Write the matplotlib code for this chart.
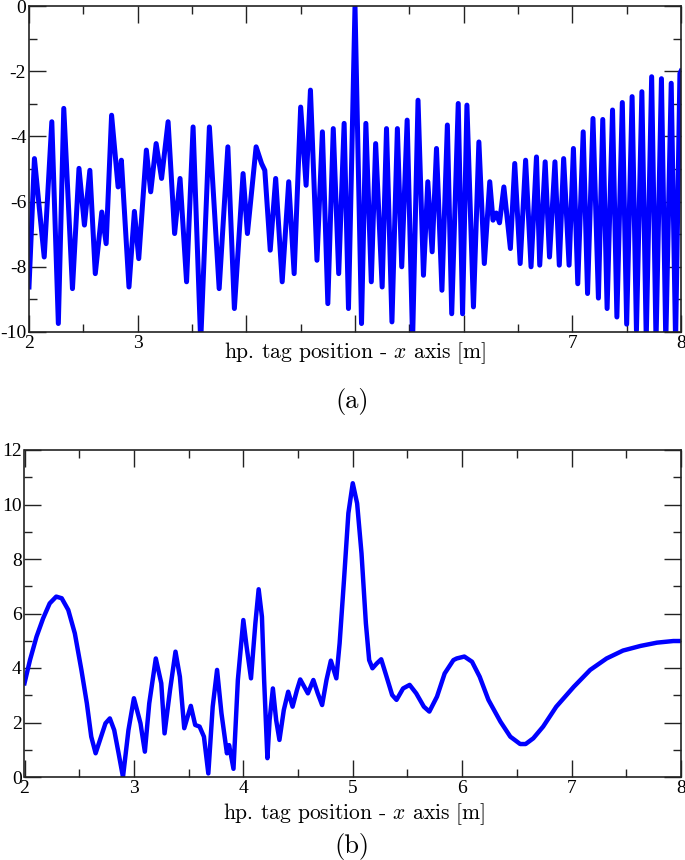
import matplotlib
matplotlib.use("Agg")
import matplotlib.pyplot as plt
from matplotlib.ticker import MultipleLocator, FuncFormatter

plt.rcParams['font.family'] = ['Liberation Serif', 'DejaVu Serif']
plt.rcParams['mathtext.fontset'] = 'cm'
plt.rcParams['axes.unicode_minus'] = False

# (a): local peaks / troughs of the curve
top_x = [2.00, 2.05, 2.10, 2.14, 2.21, 2.27, 2.32, 2.40, 2.46, 2.51,
         2.56, 2.61, 2.67, 2.71, 2.76, 2.82, 2.85, 2.92, 2.97, 3.01,
         3.08, 3.12, 3.17, 3.22, 3.28, 3.34, 3.39, 3.45, 3.51, 3.58,
         3.66, 3.75, 3.83, 3.89, 3.97, 4.01, 4.09, 4.14, 4.17, 4.22,
         4.27, 4.33, 4.39, 4.44, 4.50, 4.55, 4.59, 4.65, 4.70, 4.75,
         4.80, 4.85, 4.90, 4.94, 5.00, 5.06, 5.10, 5.15, 5.19, 5.25,
         5.29, 5.34, 5.39, 5.43, 5.48, 5.53, 5.58, 5.63, 5.67, 5.71,
         5.75, 5.80, 5.85, 5.89, 5.95, 5.99, 6.03, 6.09, 6.14, 6.19,
         6.24, 6.27, 6.30, 6.33, 6.37, 6.43, 6.47, 6.52, 6.57, 6.62,
         6.67, 6.70, 6.75, 6.79, 6.84, 6.88, 6.92, 6.97, 7.01, 7.05,
         7.10, 7.14, 7.19, 7.24, 7.28, 7.32, 7.37, 7.41, 7.46, 7.50,
         7.55, 7.59, 7.64, 7.68, 7.73, 7.77, 7.82, 7.86, 7.91, 7.95,
         7.99, 8.00]
top_y = [-8.62, -4.68, -6.37, -7.70, -3.55, -9.74, -3.14, -8.67, -4.98, -6.72,
         -5.04, -8.21, -6.32, -7.29, -3.35, -5.55, -4.73, -8.62, -6.30, -7.75,
         -4.42, -5.70, -4.22, -5.29, -3.55, -6.98, -5.29, -8.46, -3.71, -10.3,
         -3.71, -8.67, -4.32, -9.28, -5.14, -6.98, -4.32, -4.83, -5.04, -7.49,
         -5.29, -8.46, -5.39, -8.21, -3.10, -5.50, -2.58, -7.80, -3.86, -9.13,
         -3.76, -8.21, -3.60, -9.28, 0.00, -9.74, -3.60, -8.46, -4.22, -8.62,
         -3.76, -9.69, -3.76, -8.00, -3.50, -10.26, -2.89, -8.26, -5.39, -7.54,
         -4.37, -8.72, -3.65, -9.44, -2.99, -9.44, -3.04, -9.23, -4.17, -7.90,
         -5.39, -6.57, -6.35, -6.65, -5.55, -7.44, -4.83, -7.90, -4.73, -8.00,
         -4.63, -7.95, -4.78, -7.70, -4.78, -7.95, -4.68, -7.95, -4.37, -8.52,
         -3.86, -8.82, -3.45, -8.96, -3.48, -9.28, -3.19, -9.54, -2.96, -9.76,
         -2.78, -9.95, -2.63, -10.2, -2.17, -10.3, -2.23, -10.3, -2.37, -10.3,
         -2.07, -2.00]

# (b)
bot_x = [2.00, 2.05, 2.11, 2.17, 2.23, 2.29, 2.34, 2.40, 2.46, 2.52,
         2.57, 2.61, 2.65, 2.69, 2.74, 2.78, 2.82, 2.86, 2.90, 2.95,
         3.00, 3.06, 3.10, 3.14, 3.20, 3.25, 3.28, 3.33, 3.38, 3.42,
         3.46, 3.52, 3.56, 3.60, 3.64, 3.68, 3.72, 3.76, 3.80, 3.85,
         3.87, 3.91, 3.95, 4.00, 4.03, 4.07, 4.11, 4.14, 4.17, 4.19,
         4.22, 4.24, 4.27, 4.30, 4.33, 4.37, 4.41, 4.45, 4.49, 4.52,
         4.59, 4.64, 4.68, 4.72, 4.76, 4.80, 4.85, 4.88, 4.92, 4.96,
         5.00, 5.04, 5.08, 5.12, 5.15, 5.18, 5.22, 5.26, 5.30, 5.36,
         5.40, 5.46, 5.52, 5.58, 5.65, 5.70, 5.77, 5.84, 5.92, 5.95,
         6.02, 6.09, 6.16, 6.24, 6.35, 6.44, 6.53, 6.58, 6.65, 6.74,
         6.86, 7.02, 7.17, 7.32, 7.47, 7.63, 7.78, 7.93, 8.00]
bot_y = [3.44, 4.29, 5.15, 5.82, 6.37, 6.62, 6.56, 6.13, 5.27, 3.93,
         2.70, 1.48, 0.87, 1.36, 1.97, 2.15, 1.72, 0.87, 0.00, 1.72,
         2.89, 1.97, 0.93, 2.70, 4.35, 3.44, 1.60, 3.19, 4.60, 3.68,
         1.79, 2.61, 1.91, 1.85, 1.48, 0.13, 2.58, 3.93, 2.34, 0.87,
         1.17, 0.30, 3.56, 5.76, 4.78, 3.62, 5.64, 6.89, 5.88, 3.56,
         0.69, 2.09, 3.25, 2.09, 1.36, 2.46, 3.13, 2.58, 3.19, 3.58,
         3.07, 3.56, 3.07, 2.64, 3.56, 4.27, 3.62, 4.91, 7.23, 9.68,
         10.78, 10.04, 8.21, 5.64, 4.29, 3.99, 4.17, 4.32, 3.80, 3.01,
         2.83, 3.25, 3.38, 3.07, 2.58, 2.40, 2.95, 3.80, 4.29, 4.35,
         4.42, 4.23, 3.68, 2.83, 2.03, 1.48, 1.21, 1.21, 1.42, 1.85,
         2.58, 3.31, 3.93, 4.35, 4.64, 4.81, 4.93, 4.99, 4.99]

top_shown_xlabels = [2, 3, 7, 8]   # 4, 5, 6 sit under the axis title
label_txt = "hp. tag position - $x$ axis [m]"


def style_axes(ax, ymaj, ymin):
    ax.set_xlim(2, 8)
    ax.xaxis.set_major_locator(MultipleLocator(1))
    ax.xaxis.set_minor_locator(MultipleLocator(0.5))
    ax.yaxis.set_major_locator(MultipleLocator(ymaj))
    ax.yaxis.set_minor_locator(MultipleLocator(ymin))
    ax.tick_params(which='both', direction='in', top=True, right=True,
                   width=1.0, color='#222222', labelsize=14)
    ax.tick_params(which='major', length=12, pad=2)
    ax.tick_params(which='minor', length=6)
    for s in ax.spines.values():
        s.set_linewidth(1.2)
        s.set_color('#222222')


fig = plt.figure(figsize=(6.85, 8.6), dpi=100)

ax1 = fig.add_axes([29 / 685, 1 - 332 / 860, 652 / 685, 326 / 860])
ax1.plot(top_x, top_y, color='#0000ff', lw=3.6, solid_joinstyle='round')
ax1.set_ylim(-10, 0)
style_axes(ax1, 2, 1)
ax1.xaxis.set_major_formatter(FuncFormatter(
    lambda v, p: "%d" % round(v) if round(v) in top_shown_xlabels else ""))

ax2 = fig.add_axes([24.5 / 685, 1 - 777 / 860, 656.5 / 685, 327 / 860])
ax2.plot(bot_x, bot_y, color='#0000ff', lw=3.2, solid_joinstyle='round')
ax2.set_ylim(0, 12)
style_axes(ax2, 2, 1)

fig.text(355 / 685, 1 - 353 / 860, label_txt, family='cmr10', fontsize=15.5,
         ha='center', va='center')
fig.text(352 / 685, 1 - 401 / 860, "(a)", family='cmr10', fontsize=19,
         ha='center', va='center')
fig.text(354 / 685, 1 - 814 / 860, label_txt, family='cmr10', fontsize=15.5,
         ha='center', va='center')
fig.text(352 / 685, 1 - 846 / 860, "(b)", family='cmr10', fontsize=19,
         ha='center', va='center')

fig.savefig("out.png", dpi=100)
